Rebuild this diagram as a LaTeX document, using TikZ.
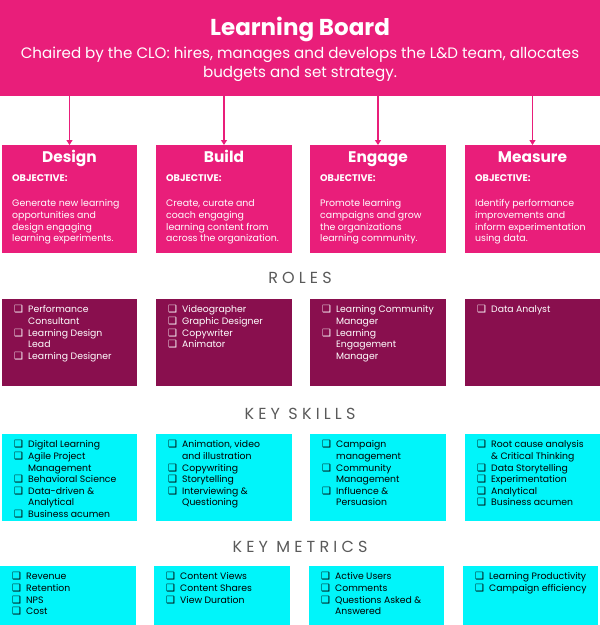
\documentclass[tikz,border=0pt]{standalone}
\usepackage{fontspec}
\setmainfont{Poppins}
\newfontfamily\ckfont{DejaVu Sans}
\newfontfamily\headfont[LetterSpace=26]{Poppins}
\usetikzlibrary{arrows.meta}
\definecolor{lbpink}{HTML}{E91E7A}
\definecolor{lbmaroon}{HTML}{890F4E}
\definecolor{lbcyan}{HTML}{00F5FA}
\definecolor{lbgray}{HTML}{5A5A5A}
\newcommand\bxitem{\makebox[14pt][l]{\ckfont\bfseries\fontsize{10}{10}\selectfont ❑}}
\newcommand\bxcont{\hspace*{14pt}}
\tikzset{
  panel/.style={anchor=north west, inner sep=0pt, outer sep=0pt, draw=none, minimum width=135pt},
  objbox/.style={panel, fill=lbpink, minimum height=108pt},
  rolebox/.style={panel, fill=lbmaroon, minimum height=87pt},
  skillbox/.style={panel, fill=lbcyan, minimum height=87pt},
  metricbox/.style={panel, fill=lbcyan, minimum height=59pt},
  coltitle/.style={anchor=base, inner sep=0pt, text=white, font=\fontsize{15.4}{17}\selectfont\bfseries},
  objlabel/.style={anchor=base west, inner sep=0pt, text=white, font=\fontsize{9.6}{11}\selectfont\bfseries},
  objtext/.style={anchor=north west, inner sep=0pt, align=left, text=white, font=\fontsize{9.4}{11.7}\selectfont},
  itemtext/.style={anchor=north west, inner sep=0pt, align=left, font=\fontsize{9.3}{11.6}\selectfont},
  heading/.style={anchor=base, inner sep=0pt, text=lbgray, font=\headfont\fontsize{16}{18}\selectfont},
  arr/.style={draw=lbpink, line width=1.3pt, -{Triangle[length=5pt,width=6pt]}}
}
\begin{document}
\begin{tikzpicture}[x=1pt,y=-1pt]
\useasboundingbox (0,0) rectangle (600,625);
% top board
\node[panel, fill=lbpink, minimum width=600pt, minimum height=96pt] (lb) at (0,0) {};
\node[anchor=base, inner sep=0pt, text=white, font=\fontsize{23}{26}\selectfont\bfseries] (lbt) at (300,35) {Learning Board};
\node[anchor=north, inner sep=0pt, text=white, align=center, font=\fontsize{15.1}{19.5}\selectfont] (lbs) at (300,46.5) {Chaired by the CLO: hires, manages and develops the L\&D team, allocates\\budgets and set strategy.};
% objective boxes
\node[objbox] (d1) at (2,145) {};
\node[objbox, minimum width=136pt] (b1) at (156,145) {};
\node[objbox, minimum width=136pt] (e1) at (310,145) {};
\node[objbox] (m1) at (465,145) {};
\foreach \n in {d1,b1,e1,m1} \draw[arr] (lb.south -| \n.north) -- (\n.north);
\node[coltitle] (d1t) at ([yshift=-17.5pt]d1.north) {Design};
\node[coltitle] (b1t) at ([yshift=-17.5pt]b1.north) {Build};
\node[coltitle] (e1t) at ([yshift=-17.5pt]e1.north) {Engage};
\node[coltitle] (m1t) at ([yshift=-17.5pt]m1.north) {Measure};
\foreach \n in {d1,b1,e1,m1} \node[objlabel] (\n o) at ([xshift=10pt,yshift=-36.5pt]\n.north west) {OBJECTIVE:};
\node[objtext] (d1x) at ([xshift=10pt,yshift=-54.5pt]d1.north west) {Generate new learning\\opportunities and\\design engaging\\learning experiments.};
\node[objtext] (b1x) at ([xshift=10pt,yshift=-54.5pt]b1.north west) {Create, curate and\\coach engaging\\learning content from\\across the organization.};
\node[objtext] (e1x) at ([xshift=10pt,yshift=-54.5pt]e1.north west) {Promote learning\\campaigns and grow\\the organizations\\learning community.};
\node[objtext] (m1x) at ([xshift=10pt,yshift=-54.5pt]m1.north west) {Identify performance\\improvements and\\inform experimentation\\using data.};
% roles
\node[heading] (hr) at (300,283.5) {ROLES};
\node[rolebox] (d2) at (2,299) {};
\node[rolebox, minimum width=136pt] (b2) at (156,299) {};
\node[rolebox, minimum width=136pt] (e2) at (310,299) {};
\node[rolebox] (m2) at (465,299) {};
\node[itemtext, text=white] (d2x) at ([xshift=12pt,yshift=-6.5pt]d2.north west) {\bxitem Performance\\\bxcont Consultant\\\bxitem Learning Design\\\bxcont Lead\\\bxitem Learning Designer};
\node[itemtext, text=white] (b2x) at ([xshift=12pt,yshift=-6.5pt]b2.north west) {\bxitem Videographer\\\bxitem Graphic Designer\\\bxitem Copywriter\\\bxitem Animator};
\node[itemtext, text=white] (e2x) at ([xshift=12pt,yshift=-6.5pt]e2.north west) {\bxitem Learning Community\\\bxcont Manager\\\bxitem Learning\\\bxcont Engagement\\\bxcont Manager};
\node[itemtext, text=white] (m2x) at ([xshift=12pt,yshift=-6.5pt]m2.north west) {\bxitem Data Analyst};
% key skills
\node[heading] (hs) at (300,419.5) {KEY SKILLS};
\node[skillbox] (d3) at (2,434) {};
\node[skillbox, minimum width=136pt] (b3) at (156,434) {};
\node[skillbox, minimum width=136pt] (e3) at (310,434) {};
\node[skillbox] (m3) at (465,434) {};
\node[itemtext] (d3x) at ([xshift=12pt,yshift=-6.5pt]d3.north west) {\bxitem Digital Learning\\\bxitem Agile Project\\\bxcont Management\\\bxitem Behavioral Science\\\bxitem Data-driven \&\\\bxcont Analytical\\\bxitem Business acumen};
\node[itemtext] (b3x) at ([xshift=12pt,yshift=-6.5pt]b3.north west) {\bxitem Animation, video\\\bxcont and illustration\\\bxitem Copywriting\\\bxitem Storytelling\\\bxitem Interviewing \&\\\bxcont Questioning};
\node[itemtext] (e3x) at ([xshift=12pt,yshift=-6.5pt]e3.north west) {\bxitem Campaign\\\bxcont management\\\bxitem Community\\\bxcont Management\\\bxitem Influence \&\\\bxcont Persuasion};
\node[itemtext] (m3x) at ([xshift=12pt,yshift=-6.5pt]m3.north west) {\bxitem Root cause analysis\\\bxcont \& Critical Thinking\\\bxitem Data Storytelling\\\bxitem Experimentation\\\bxitem Analytical\\\bxitem Business acumen};
% key metrics
\node[heading] (hm) at (300,552) {KEY METRICS};
\node[metricbox, minimum width=136pt] (d4) at (0,566) {};
\node[metricbox, minimum width=136pt] (b4) at (154,566) {};
\node[metricbox] (e4) at (309,566) {};
\node[metricbox] (m4) at (463,566) {};
\node[itemtext] (d4x) at ([xshift=12pt,yshift=-6.5pt]d4.north west) {\bxitem Revenue\\\bxitem Retention\\\bxitem NPS\\\bxitem Cost};
\node[itemtext] (b4x) at ([xshift=12pt,yshift=-6.5pt]b4.north west) {\bxitem Content Views\\\bxitem Content Shares\\\bxitem View Duration};
\node[itemtext] (e4x) at ([xshift=12pt,yshift=-6.5pt]e4.north west) {\bxitem Active Users\\\bxitem Comments\\\bxitem Questions Asked \&\\\bxcont Answered};
\node[itemtext] (m4x) at ([xshift=12pt,yshift=-6.5pt]m4.north west) {\bxitem Learning Productivity\\\bxitem Campaign efficiency};
\end{tikzpicture}
\end{document}
